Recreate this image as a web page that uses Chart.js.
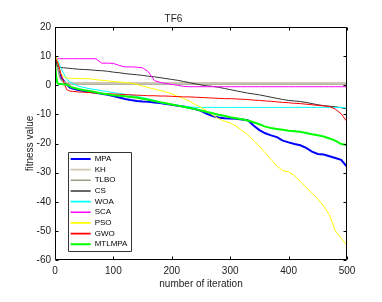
<!DOCTYPE html>
<html><head><meta charset="utf-8">
<script src="https://cdn.jsdelivr.net/npm/chart.js@4.4.0/dist/chart.umd.min.js"></script>
<style>html,body{margin:0;padding:0;background:#fff;}canvas{display:block;}</style>
</head><body>
<canvas id="c" width="382" height="302"></canvas>
<script>
const iterations = [0,2,4,6,8,10,15,20,25,30,40,50,60,70,80,90,100,110,120,130,140,150,160,170,180,190,200,210,220,230,240,250,260,270,280,290,300,310,320,330,340,350,360,370,380,390,400,410,420,430,440,450,460,470,480,490,500];

const seriesNames = ['MPA','KH','TLBO','CS','WOA','SCA','PSO','GWO','MTLMPA'];

const MPA = [10,8.5,7,5.5,4,2.8,1.5,0.3,-0.7,-1.1, -1.6,-2.0,-2.3,-2.6,-2.9,-3.3,-3.7,-4.2,-4.7,-5.1, -5.4,-5.6,-5.7,-5.9,-6.1,-6.4,-6.7,-7.0,-7.3,-7.7, -8.2,-8.8,-9.8,-10.6,-11.1,-11.3,-11.4,-11.5,-11.8,-12.0, -13.8,-15.4,-16.5,-17.2,-17.8,-19.0,-19.6,-20.2,-20.6,-21.5, -22.8,-23.6,-23.8,-24.4,-25.0,-25.6,-28.0];
const KH = [10,8,6,4,2.5,1.8,1.2,1.0,0.9,0.9, 0.9,0.9,0.9,0.9,0.9,0.9,0.9,0.9,0.9,0.9, 0.9,0.9,0.9,0.9,0.9,0.9,0.9,0.9,0.9,0.9, 0.9,0.9,0.9,0.9,0.9,0.9,0.9,0.9,0.9,0.9, 0.9,0.9,0.9,0.9,0.9,0.9,0.9,0.9,0.9,0.9, 0.9,0.9,0.9,0.9,0.9,0.9,0.9];
const TLBO = [10.5,9,7,5,3,2,1,0.6,0.4,0.4, 0.4,0.4,0.4,0.4,0.4,0.4,0.4,0.4,0.4,0.4, 0.4,0.4,0.4,0.4,0.4,0.4,0.4,0.4,0.4,0.4, 0.4,0.4,0.4,0.4,0.4,0.4,0.4,0.4,0.4,0.4, 0.4,0.4,0.4,0.4,0.4,0.4,0.4,0.4,0.4,0.4, 0.4,0.4,0.4,0.4,0.4,0.4,0.4];
const CS = [10,8,6.5,6.3,6.2,6.1,6.0,5.9,5.8,5.7, 5.5,5.4,5.3,5.1,5.0,4.8,4.5,4.3,4.0,3.8, 3.6,3.4,3.1,2.9,2.6,2.3,2.0,1.7,1.3,0.9, 0.5,0.1,-0.2,-0.4,-0.7,-1.1,-1.5,-1.9,-2.3,-2.7, -3.0,-3.3,-3.7,-4.1,-4.5,-4.9,-5.2,-5.4,-5.6,-5.9, -6.3,-6.7,-7.0,-7.2,-7.4,-7.7,-8.2];
const WOA = [10,9.5,8.8,8,7,6,4,2,1.2,0.6, -0.3,-0.8,-1.2,-1.5,-1.9,-2.2,-2.5,-2.8,-3.1,-3.4, -3.8,-4.2,-4.7,-5.2,-6.0,-6.3,-6.6,-6.9,-7.2,-7.4, -7.6,-7.6,-7.6,-7.6,-7.6,-7.6,-7.6,-7.6,-7.6,-7.6, -7.6,-7.6,-7.6,-7.6,-7.6,-7.6,-7.6,-7.6,-7.6,-7.6, -7.6,-7.6,-7.6,-7.6,-7.6,-7.6,-7.8];
const SCA = [10,9.3,9.1,9.1,9.1,9.1,9.1,9.1,9.1,9.1, 9.1,9.1,9.1,9.1,7.6,7.6,7.5,6.8,6.3,6.3, 6.2,6.0,4.6,1.6,1.0,0.6,0.3,0.0,-0.4,-0.5, -0.5,-0.5,-0.5,-0.5,-0.5,-0.5,-0.5,-0.5,-0.5,-0.5, -0.5,-0.5,-0.5,-0.5,-0.5,-0.5,-0.5,-0.5,-0.5,-0.5, -0.5,-0.5,-0.5,-0.5,-0.5,-0.5,-0.5];
const PSO = [10,9.5,8.5,7,5.5,4,3,2.5,2.4,2.4, 2.3,2.3,2.2,1.9,1.7,1.5,1.3,1.1,0.9,0.7, 0.3,-0.3,-0.8,-1.3,-1.8,-2.3,-3.0,-3.8,-4.6,-5.4, -6.6,-7.6,-8.8,-10.2,-11.5,-12.3,-13.0,-14.0,-15.5,-17.0, -19.0,-21.0,-23.2,-25.5,-27.8,-29.3,-29.8,-31.0,-33.0,-35.0, -37.0,-39.0,-41.5,-44.5,-50.0,-52.5,-55.0];
const GWO = [9.5,8.8,8,7,5.5,4,1,-1.5,-2.0,-2.1, -2.3,-2.4,-2.5,-2.7,-2.8,-2.9,-3.0,-3.1,-3.2,-3.3, -3.4,-3.5,-3.6,-3.6,-3.7,-3.7,-3.8,-3.9,-4.0,-4.0, -4.1,-4.2,-4.3,-4.4,-4.5,-4.6,-4.6,-4.7,-4.8,-4.9, -5.1,-5.2,-5.4,-5.5,-5.7,-5.9,-6.0,-6.2,-6.3,-6.5, -6.7,-6.9,-7.1,-7.3,-8.2,-9.8,-12.5];
const MTLMPA = [8,3,0.8,0.5,0.4,0.4,0.3,0.2,-0.3,-0.8, -1.3,-1.7,-2.0,-2.4,-2.8,-3.1,-3.4,-3.6,-3.8,-4.0, -4.2,-4.6,-5.0,-5.4,-5.8,-6.2,-6.6,-7.0,-7.4,-7.8, -8.2,-8.7,-9.2,-9.6,-10.1,-10.5,-11.0,-11.3,-11.7,-12.1, -12.7,-13.4,-14.2,-14.7,-15.0,-15.3,-15.6,-15.8,-16.0,-16.4, -16.8,-17.2,-17.6,-18.3,-19.0,-20.2,-20.5];

const xTickValues = [0,100,200,300,400,500];
const yTickValues = [20,10,0,-10,-20,-30,-40,-50,-60];

const seriesValues = [MPA, KH, TLBO, CS, WOA, SCA, PSO, GWO, MTLMPA];
const seriesColors = ['#0000FF','#D2C6B2','#9C9A82','#333333','#00FFFF','#FF00FF','#FFFF00','#FF0000','#00FF00'];
const seriesWidths = [2, 1.3, 1.3, 1, 1, 1, 1, 1, 2];

Chart.defaults.font.family = '"Liberation Sans", Arial, Helvetica, sans-serif';
Chart.defaults.color = '#222';

const datasets = seriesNames.map((name, i) => ({
  label: name,
  data: iterations.map((it, k) => ({x: it, y: seriesValues[i][k]})),
  borderColor: seriesColors[i],
  backgroundColor: seriesColors[i],
  borderWidth: seriesWidths[i],
  pointRadius: 0,
  tension: 0,
  fill: false,
  order: seriesNames.length - 1 - i
}));

const matlabBox = {
  id: 'matlabBox',
  afterLayout(chart) {
    const lg = chart.legend, ca = chart.chartArea;
    if (!lg) return;
    const w = lg.width;
    lg.left = ca.left + 13;
    lg.top = ca.top + 125.3;
    lg.width = w;
    lg.height = 120;
    lg.right = lg.left + w;
    lg.bottom = lg.top + 120;
  },
  afterDraw(chart) {
    const {ctx, chartArea: ca, scales} = chart;
    const xs = scales.x, ys = scales.y;
    ctx.save();
    ctx.strokeStyle = '#000';
    ctx.lineWidth = 1;
    const L = Math.round(ca.left) + 0.5, R = Math.round(ca.right) - 0.5;
    const T = Math.round(ca.top) + 0.5, B = Math.round(ca.bottom) - 0.5;
    ctx.beginPath();
    ctx.rect(L, T, R - L, B - T);
    xs.ticks.forEach(t => {
      const px = Math.round(xs.getPixelForValue(t.value)) + 0.5;
      ctx.moveTo(px, B); ctx.lineTo(px, B - 3);
      ctx.moveTo(px, T); ctx.lineTo(px, T + 3);
    });
    ys.ticks.forEach(t => {
      const py = Math.round(ys.getPixelForValue(t.value)) + 0.5;
      ctx.moveTo(L, py); ctx.lineTo(L + 3, py);
      ctx.moveTo(R, py); ctx.lineTo(R - 3, py);
    });
    ctx.stroke();
    const lg = chart.legend;
    if (lg && lg.legendHitBoxes && lg.legendHitBoxes.length) {
      let right = 0, bottom = 0;
      lg.legendHitBoxes.forEach(h => {
        right = Math.max(right, h.left + h.width);
        bottom = Math.max(bottom, h.top + h.height);
      });
      const pad = lg.options.labels.padding;
      ctx.strokeStyle = '#333';
      ctx.beginPath();
      ctx.rect(Math.round(lg.left) + 0.5, Math.round(lg.top) + 0.5,
               Math.round(right + 4 - lg.left), Math.round(bottom + pad - lg.top));
      ctx.stroke();
    }
    ctx.restore();
  }
};

new Chart(document.getElementById('c'), {
  type: 'line',
  data: {datasets},
  plugins: [matlabBox],
  options: {
    responsive: false,
    devicePixelRatio: 1,
    animation: false,
    layout: {padding: {left: 0, right: 35, top: 0, bottom: 0}},
    plugins: {
      title: {display: true, text: 'TF6', color: '#222', font: {size: 10, weight: 'normal'}, padding: {top: 13, bottom: 2}},
      legend: {
        position: 'chartArea',
        align: 'start',
        labels: {
          usePointStyle: true,
          pointStyle: 'line',
          pointStyleWidth: 20,
          boxWidth: 20,
          boxHeight: 8,
          padding: 2.66,
          color: '#000',
          font: {size: 8},
          generateLabels: (chart) => {
            const items = Chart.defaults.plugins.legend.labels.generateLabels(chart);
            items.forEach(it => { it.lineWidth = Math.max(1.6, it.lineWidth || 1); it.fontColor = '#000'; });
            return items;
          },
          sort: (a, b) => a.datasetIndex - b.datasetIndex
        }
      },
      tooltip: {enabled: false}
    },
    scales: {
      x: {
        type: 'linear', min: 0, max: 500,
        grid: {display: false, drawTicks: false},
        border: {display: false},
        afterBuildTicks: s => { s.ticks = xTickValues.map(v => ({value: v})); },
        afterFit: s => { s.height = 42; },
        ticks: {font: {size: 10}, color: '#222', padding: 5, maxRotation: 0, autoSkip: false},
        title: {display: true, text: 'number of iteration', color: '#222', font: {size: 10}, padding: {top: 0, bottom: 12}}
      },
      y: {
        type: 'linear', min: -60, max: 20,
        grid: {display: false, drawTicks: false},
        border: {display: false},
        afterBuildTicks: s => { s.ticks = yTickValues.map(v => ({value: v})); },
        afterFit: s => { s.width = 55; },
        ticks: {font: {size: 10}, color: '#222', padding: 4, autoSkip: false},
        title: {display: true, text: 'fitness value', color: '#222', font: {size: 10}, padding: {top: 24, bottom: 0}}
      }
    }
  }
});
</script>
</body></html>
